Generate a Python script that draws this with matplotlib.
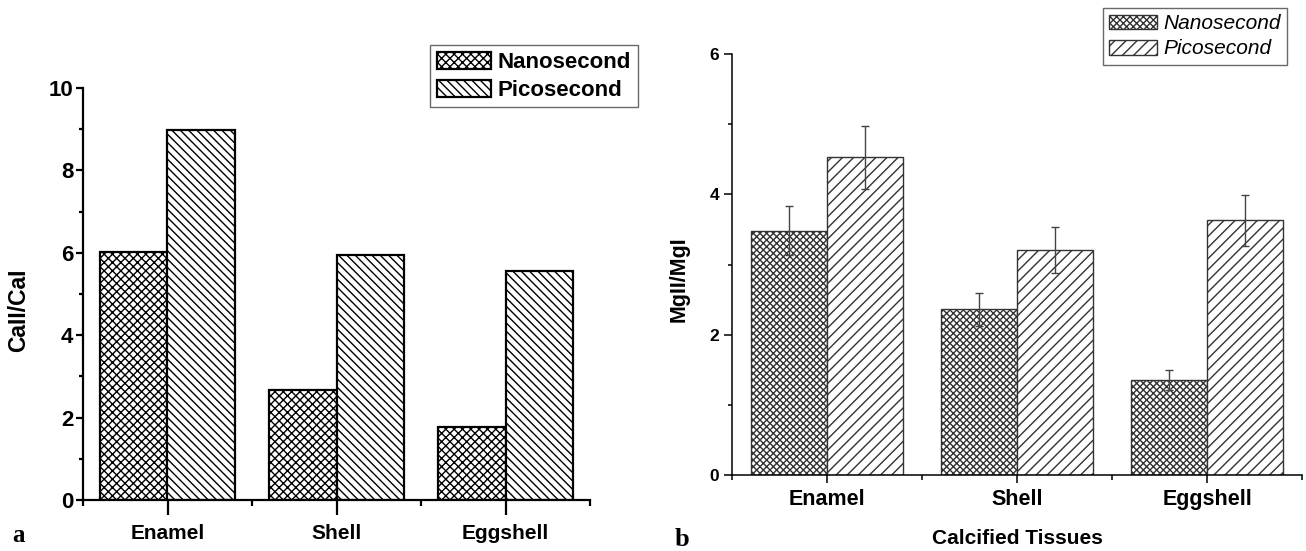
import matplotlib
matplotlib.use("Agg")
import matplotlib.pyplot as plt
from matplotlib.ticker import FixedLocator
import numpy as np

# ---- data ----
categories = ["Enamel", "Shell", "Eggshell"]
series_names = ["Nanosecond", "Picosecond"]

ca_nano = [6.03, 2.67, 1.78]
ca_pico = [8.97, 5.95, 5.57]

mg_nano = [3.48, 2.36, 1.35]
mg_nano_err = [0.35, 0.24, 0.14]
mg_pico = [4.53, 3.21, 3.63]
mg_pico_err = [0.45, 0.33, 0.36]

left_yticks = [0, 2, 4, 6, 8, 10]
right_yticks = [0, 2, 4, 6]

plt.rcParams['font.family'] = ['Liberation Sans', 'DejaVu Sans']
plt.rcParams['hatch.linewidth'] = 1.0

W, H = 1306, 551
fig = plt.figure(figsize=(W / 100, H / 100), dpi=100)

x = np.arange(1, len(categories) + 1)
bw = 0.4

# ---------------- panel a ----------------
ax1 = fig.add_axes([83 / W, 1 - 500 / H, 507 / W, 412 / H])
ax1.bar(x - bw / 2, ca_nano, bw, facecolor='white', edgecolor='black',
        hatch='xxxx', linewidth=1.6, label=series_names[0], zorder=2)
ax1.bar(x + bw / 2, ca_pico, bw, facecolor='white', edgecolor='black',
        hatch='\\\\\\\\', linewidth=1.6, label=series_names[1], zorder=2)
ax1.set_xlim(0.5, 3.5)
ax1.set_ylim(0, 10)
for s in ['top', 'right']:
    ax1.spines[s].set_visible(False)
for s in ['left', 'bottom']:
    ax1.spines[s].set_linewidth(1.6)
ax1.set_xticks(x)
ax1.set_xticklabels(categories, fontsize=15, fontweight='bold')
ax1.xaxis.set_minor_locator(FixedLocator([0.5, 1.5, 2.5, 3.5]))
ax1.set_yticks(left_yticks)
ax1.set_yticklabels([str(v) for v in left_yticks], fontsize=16, fontweight='bold')
ax1.yaxis.set_minor_locator(FixedLocator([1, 3, 5, 7, 9]))
ax1.tick_params(axis='x', which='major', direction='out', length=11, width=1.6, pad=6)
ax1.tick_params(axis='x', which='minor', direction='out', length=4.5, width=1.6)
ax1.tick_params(axis='y', which='major', direction='out', length=5, width=1.6, pad=2)
ax1.tick_params(axis='y', which='minor', direction='out', length=3, width=1.6)
ax1.set_ylabel("CaII/CaI", fontsize=16.5, fontweight='bold')
ax1.yaxis.set_label_coords(-0.105, 0.461)
leg1 = ax1.legend(loc='upper left', bbox_to_anchor=(430 / W, 1 - 45 / H),
                  bbox_transform=fig.transFigure, frameon=True, fancybox=False,
                  prop={'size': 16, 'weight': 'bold'}, handlelength=2.45,
                  handleheight=0.8, handletextpad=0.3, borderpad=0.3,
                  labelspacing=0.3, borderaxespad=0)
leg1.get_frame().set_edgecolor('#444444')
leg1.get_frame().set_linewidth(1.0)

fig.text(12 / W, 1 - 536 / H, "a", fontsize=18, fontweight='bold',
         family='Liberation Serif', va='center', ha='left')

# ---------------- panel b ----------------
ax2 = fig.add_axes([732 / W, 1 - 475 / H, 570 / W, 421 / H])
ec = '#333333'
ax2.bar(x - bw / 2, mg_nano, bw, facecolor='white', edgecolor=ec,
        hatch='xxxxx', linewidth=1.0, label=series_names[0], zorder=2)
ax2.bar(x + bw / 2, mg_pico, bw, facecolor='white', edgecolor=ec,
        hatch='///', linewidth=1.0, label=series_names[1], zorder=2)
ax2.errorbar(x - bw / 2, mg_nano, yerr=mg_nano_err, fmt='none', ecolor='#444444',
             elinewidth=1.0, capsize=3, capthick=1.0, zorder=3)
ax2.errorbar(x + bw / 2, mg_pico, yerr=mg_pico_err, fmt='none', ecolor='#444444',
             elinewidth=1.0, capsize=3, capthick=1.0, zorder=3)
ax2.set_xlim(0.5, 3.5)
ax2.set_ylim(0, 6)
for s in ['top', 'right']:
    ax2.spines[s].set_visible(False)
for s in ['left', 'bottom']:
    ax2.spines[s].set_linewidth(1.1)
ax2.set_xticks(x)
ax2.set_xticklabels(categories, fontsize=15.5, fontweight='bold')
ax2.xaxis.set_minor_locator(FixedLocator([0.5, 1.5, 2.5, 3.5]))
ax2.set_yticks(right_yticks)
ax2.set_yticklabels([str(v) for v in right_yticks], fontsize=12.5, fontweight='bold')
ax2.yaxis.set_minor_locator(FixedLocator([1, 3, 5]))
ax2.tick_params(axis='x', which='major', direction='out', length=6, width=1.1, pad=4)
ax2.tick_params(axis='x', which='minor', direction='out', length=3.5, width=1.1)
ax2.tick_params(axis='y', which='major', direction='out', length=6, width=1.1, pad=3)
ax2.tick_params(axis='y', which='minor', direction='out', length=3, width=1.1)
ax2.set_ylabel("MgII/MgI", fontsize=15.5, fontweight='bold')
ax2.yaxis.set_label_coords(-0.074, 0.466)
ax2.set_xlabel("Calcified Tissues", fontsize=15, fontweight='bold', labelpad=14)
leg2 = ax2.legend(loc='upper left', bbox_to_anchor=(1103 / W, 1 - 8 / H),
                  bbox_transform=fig.transFigure, frameon=True, fancybox=False,
                  prop={'size': 15, 'style': 'italic'}, handlelength=2.3,
                  handleheight=0.7, handletextpad=0.3, borderpad=0.3,
                  labelspacing=0.3, borderaxespad=0)
leg2.get_frame().set_edgecolor('#444444')
leg2.get_frame().set_linewidth(1.0)

fig.text(675 / W, 1 - 540 / H, "b", fontsize=19, fontweight='bold',
         family='Liberation Serif', va='center', ha='left')

fig.savefig("out.png", dpi=100)
